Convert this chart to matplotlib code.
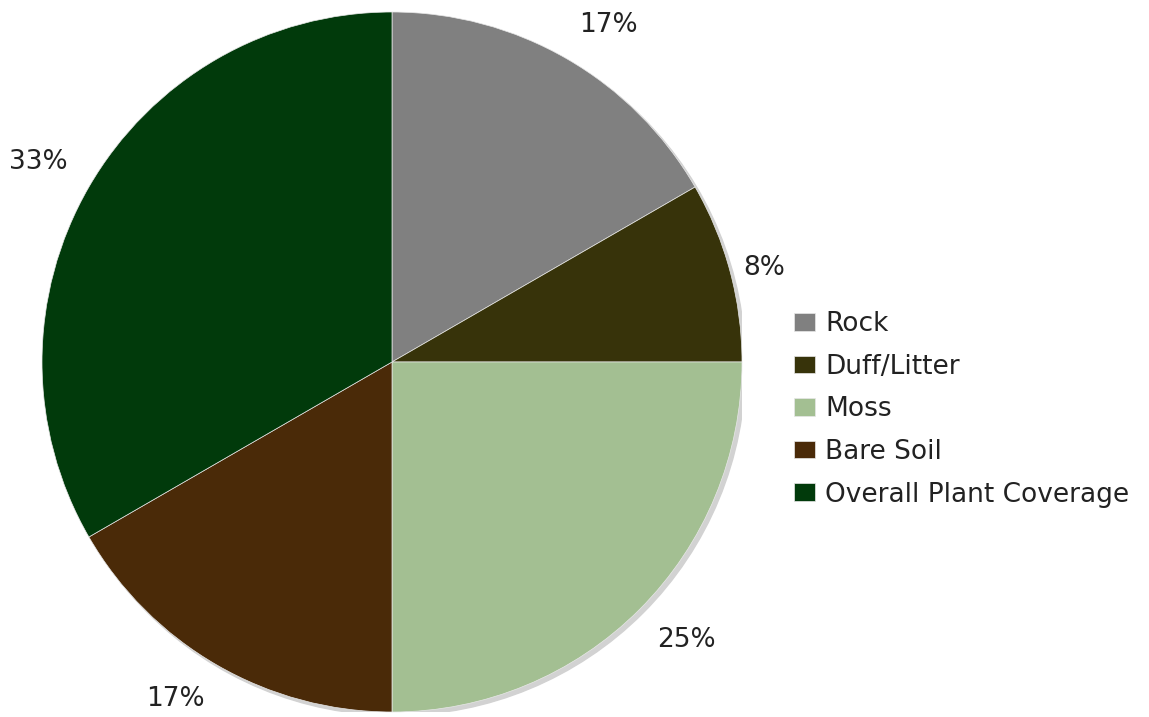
import numpy as np
import matplotlib.pyplot as plt
from matplotlib.patches import Circle

categories = ['Rock', 'Duff/Litter', 'Moss', 'Bare Soil', 'Overall Plant Coverage']
values = [2, 1, 3, 2, 4]
colors = ['#808080', '#37330a', '#a3bf92', '#4a2a08', '#013a0b']

# distance (in radii) from the centre to the anchor of each percentage label
label_dist = [1.07, 1.04, 1.07, 1.07, 1.07]

plt.rcParams['font.family'] = ['DejaVu Sans']

fig = plt.figure(figsize=(11.49, 7.17), dpi=100)
# square axes holding the pie (pixels: centre ~392,362, radius ~350)
ax = fig.add_axes([(392 - 350) / 1149, (717 - 362 - 350) / 717, 700 / 1149, 700 / 717])

# faint shadow along the lower right rim
ax.add_patch(Circle((0.01, -0.01), 1.0, color='#d2d2d2', zorder=0))

wedges, texts, autotexts = ax.pie(
    values, colors=colors, startangle=90, counterclock=False,
    autopct='%1.0f%%', pctdistance=1.1, radius=1.0,
    wedgeprops=dict(linewidth=0.5, edgecolor='#e8e8e8'),
    textprops=dict(fontsize=19, color='#222222'))

# outside-end labels: anchor the side of the text that faces the pie
for w, t, d in zip(wedges, autotexts, label_dist):
    ang = np.deg2rad((w.theta1 + w.theta2) / 2)
    c, s = np.cos(ang), np.sin(ang)
    t.set_position((d * c, d * s))
    t.set_horizontalalignment('left' if c >= 0 else 'right')
    if abs(s) < 0.4:
        t.set_verticalalignment('center')
    else:
        t.set_verticalalignment('bottom' if s > 0 else 'top')

ax.set_xlim(-1, 1)
ax.set_ylim(-1, 1)
ax.set_aspect('equal')
ax.axis('off')

fig.legend(wedges, categories, loc='upper left', bbox_to_anchor=(794 / 1149, 1 - 311 / 717),
           frameon=False, fontsize=19, handlelength=0.8, handleheight=0.65,
           handletextpad=0.38, labelspacing=0.63, borderaxespad=0, borderpad=0,
           labelcolor='#222222')

fig.savefig('out.png', dpi=100)
